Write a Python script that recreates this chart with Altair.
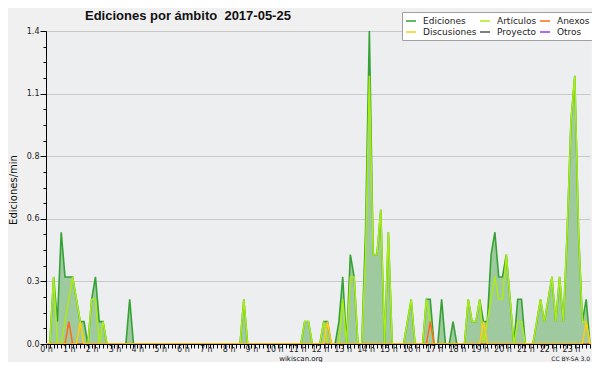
import altair as alt
import pandas as pd

title_text = "Ediciones por ámbito\u00a0\u00a02017-05-25"
y_title = "Ediciones/min"
footer_left = "wikiscan.org"
footer_right = "CC BY-SA 3.0"

series_names = ["Ediciones", "Artículos", "Anexos", "Discusiones", "Proyecto", "Otros"]
series_colors = ["#35a235", "#aaee11", "#ff6a1a", "#ffcc11", "#555555", "#9933ff"]

# one value per 10-minute bin (144 bins, 0 h .. 23 h 50); each line = 2 hours
ediciones = [
    0, 0, 0.3, 0.1, 0.5, 0.3, 0.3, 0.3, 0.2, 0.1, 0.1, 0,
    0.2, 0.3, 0.1, 0.1, 0, 0, 0, 0, 0, 0, 0.2, 0,
    0, 0, 0, 0, 0, 0, 0, 0, 0, 0, 0, 0,
    0, 0, 0, 0, 0, 0, 0, 0, 0, 0, 0, 0,
    0, 0, 0, 0, 0.2, 0, 0, 0, 0, 0, 0, 0,
    0, 0, 0, 0, 0, 0, 0, 0, 0.1, 0.1, 0, 0,
    0, 0.1, 0.1, 0, 0, 0.1, 0.3, 0, 0.4, 0.3, 0, 0,
    0.5, 1.4, 0.4, 0.4, 0.6, 0, 0.5, 0, 0, 0, 0, 0.1,
    0.2, 0, 0, 0, 0.2, 0.2, 0, 0, 0.2, 0, 0, 0.1,
    0, 0, 0, 0.2, 0.1, 0.1, 0.2, 0.1, 0.1, 0.4, 0.5, 0.3,
    0.3, 0.4, 0.2, 0, 0.2, 0.2, 0, 0, 0, 0.1, 0.2, 0.1,
    0.2, 0.3, 0.1, 0.3, 0.1, 0.5, 1.0, 1.2, 0.5, 0.1, 0.2, 0,
]
articulos = [
    0, 0, 0.3, 0, 0, 0.1, 0.2, 0.3, 0.2, 0.1, 0, 0,
    0.2, 0.2, 0, 0.1, 0, 0, 0, 0, 0, 0, 0, 0,
    0, 0, 0, 0, 0, 0, 0, 0, 0, 0, 0, 0,
    0, 0, 0, 0, 0, 0, 0, 0, 0, 0, 0, 0,
    0, 0, 0, 0, 0.2, 0, 0, 0, 0, 0, 0, 0,
    0, 0, 0, 0, 0, 0, 0, 0, 0.1, 0.1, 0, 0,
    0, 0.1, 0, 0, 0, 0, 0.2, 0, 0.3, 0.3, 0, 0,
    0.4, 1.2, 0.4, 0.4, 0.6, 0, 0.5, 0, 0, 0, 0, 0.1,
    0.2, 0, 0, 0, 0.2, 0.1, 0, 0, 0, 0, 0, 0,
    0, 0, 0, 0.2, 0.1, 0.1, 0.2, 0, 0.1, 0.2, 0.3, 0.2,
    0.2, 0.4, 0.2, 0, 0.1, 0.1, 0, 0, 0, 0.1, 0.2, 0.1,
    0.2, 0.3, 0.1, 0.3, 0.1, 0.5, 1.0, 1.2, 0.5, 0.1, 0.1, 0,
]
anexos = [
    0, 0, 0, 0, 0, 0, 0.1, 0, 0, 0, 0, 0,
    0, 0, 0, 0, 0, 0, 0, 0, 0, 0, 0, 0,
    0, 0, 0, 0, 0, 0, 0, 0, 0, 0, 0, 0,
    0, 0, 0, 0, 0, 0, 0, 0, 0, 0, 0, 0,
    0, 0, 0, 0, 0, 0, 0, 0, 0, 0, 0, 0,
    0, 0, 0, 0, 0, 0, 0, 0, 0, 0, 0, 0,
    0, 0, 0, 0, 0, 0, 0, 0, 0, 0, 0, 0,
    0, 0, 0, 0, 0, 0, 0, 0, 0, 0, 0, 0,
    0, 0, 0, 0, 0, 0.1, 0, 0, 0, 0, 0, 0,
    0, 0, 0, 0, 0, 0, 0, 0, 0, 0, 0, 0,
    0, 0, 0, 0, 0, 0, 0, 0, 0, 0, 0, 0,
    0, 0, 0, 0, 0, 0, 0, 0, 0, 0, 0, 0,
]
discusiones = [
    0, 0, 0, 0, 0, 0, 0, 0, 0, 0.1, 0, 0,
    0, 0, 0, 0, 0, 0, 0, 0, 0, 0, 0, 0,
    0, 0, 0, 0, 0, 0, 0, 0, 0, 0, 0, 0,
    0, 0, 0, 0, 0, 0, 0, 0, 0, 0, 0, 0,
    0, 0, 0, 0, 0, 0, 0, 0, 0, 0, 0, 0,
    0, 0, 0, 0, 0, 0, 0, 0, 0, 0, 0, 0,
    0, 0, 0.1, 0, 0, 0, 0, 0, 0, 0, 0, 0,
    0, 0, 0, 0, 0, 0, 0, 0, 0, 0, 0, 0,
    0, 0, 0, 0, 0, 0, 0, 0, 0, 0, 0, 0,
    0, 0, 0, 0, 0, 0, 0, 0.1, 0, 0, 0, 0,
    0, 0, 0, 0, 0, 0, 0, 0, 0, 0, 0, 0,
    0, 0, 0, 0, 0, 0, 0, 0, 0, 0, 0.1, 0,
]
proyecto = [
    0, 0, 0, 0, 0, 0, 0, 0, 0, 0, 0, 0,
    0, 0, 0, 0, 0, 0, 0, 0, 0, 0, 0, 0,
    0, 0, 0, 0, 0, 0, 0, 0, 0, 0, 0, 0,
    0, 0, 0, 0, 0, 0, 0, 0, 0, 0, 0, 0,
    0, 0, 0, 0, 0, 0, 0, 0, 0, 0, 0, 0,
    0, 0, 0, 0, 0, 0, 0, 0, 0, 0, 0, 0,
    0, 0, 0, 0, 0, 0, 0, 0, 0, 0, 0, 0,
    0, 0, 0, 0, 0, 0, 0, 0, 0, 0, 0, 0,
    0, 0, 0, 0, 0, 0, 0, 0, 0, 0, 0, 0,
    0, 0, 0, 0, 0, 0, 0, 0, 0, 0, 0, 0,
    0, 0, 0, 0, 0, 0, 0, 0, 0, 0, 0, 0,
    0, 0, 0, 0, 0, 0, 0, 0, 0, 0, 0, 0,
]
otros = [
    0, 0, 0, 0, 0, 0, 0, 0, 0, 0, 0, 0,
    0, 0, 0, 0, 0, 0, 0, 0, 0, 0, 0, 0,
    0, 0, 0, 0, 0, 0, 0, 0, 0, 0, 0, 0,
    0, 0, 0, 0, 0, 0, 0, 0, 0, 0, 0, 0,
    0, 0, 0, 0, 0, 0, 0, 0, 0, 0, 0, 0,
    0, 0, 0, 0, 0, 0, 0, 0, 0, 0, 0, 0,
    0, 0, 0, 0, 0, 0, 0, 0, 0, 0, 0, 0,
    0, 0, 0, 0, 0, 0, 0, 0, 0, 0, 0, 0,
    0, 0, 0, 0, 0, 0, 0, 0, 0, 0, 0, 0,
    0, 0, 0, 0, 0, 0, 0, 0, 0, 0, 0, 0,
    0, 0, 0, 0, 0, 0, 0, 0, 0, 0, 0, 0,
    0, 0, 0, 0, 0, 0, 0, 0, 0, 0, 0, 0,
]

n_bins = len(ediciones)
hora = [b / 6 for b in range(n_bins)]

total_df = pd.DataFrame({"hora": hora, "valor": ediciones, "ambito": "Ediciones"})
sub_rows = []
for name, vals in [("Proyecto", proyecto), ("Otros", otros), ("Artículos", articulos),
                   ("Anexos", anexos), ("Discusiones", discusiones)]:
    for h, v in zip(hora, vals):
        sub_rows.append({"hora": h, "valor": v, "ambito": name})
sub_df = pd.DataFrame(sub_rows)

x_tick_values = hora
y_tick_values = [round(k * 0.07, 2) for k in range(21)]
major_test = "abs(datum.value / 0.28 - round(datum.value / 0.28)) < 0.01"

x_enc = alt.X(
    "hora:Q",
    scale=alt.Scale(domain=[0, (n_bins - 1) / 6], nice=False, zero=False),
    axis=alt.Axis(
        values=x_tick_values,
        labelExpr="abs(datum.value - round(datum.value)) < 0.01 ? round(datum.value) + ' h' : ''",
        title="",
        grid=False,
        tickSize=4,
        tickColor="#000000",
        domainColor="#000000",
        domainWidth=1.2,
        labelFont="DejaVu Sans",
        labelFontSize=8,
        labelColor="#222222",
        labelPadding=-3,
        labelFlush=False,
        labelOverlap=False,
        zindex=1,
    ),
)
y_enc = alt.Y(
    "valor:Q",
    scale=alt.Scale(domain=[0, 1.4], nice=False),
    axis=alt.Axis(
        values=y_tick_values,
        labelExpr=major_test + " ? format(datum.value, '.1f') : ''",
        title="",
        grid=True,
        gridColor="#c8c8c8",
        gridOpacity={"condition": {"test": major_test, "value": 1}, "value": 0},
        tickSize={"condition": {"test": major_test, "value": 6}, "value": 3},
        tickColor="#000000",
        domainColor="#000000",
        labelFont="DejaVu Sans",
        labelFontSize=8,
        labelColor="#222222",
        labelPadding=1,
        labelFlush=False,
        labelOverlap=False,
    ),
)
color_enc = alt.Color(
    "ambito:N",
    scale=alt.Scale(domain=series_names, range=series_colors),
    legend=alt.Legend(
        title=None,
        orient="none",
        legendX=356,
        legendY=-19,
        direction="horizontal",
        columns=3,
        symbolType="stroke",
        symbolSize=100,
        symbolStrokeWidth=1.5,
        labelFont="DejaVu Sans",
        labelFontSize=9,
        labelColor="#222222",
        labelOffset=6,
        columnPadding=0,
        rowPadding=0,
        padding=3,
        fillColor="#ffffff",
        strokeColor="#a0a0a0",
    ),
)

area = alt.Chart(total_df).mark_area(color="#9fc99f", opacity=1).encode(x=x_enc, y=y_enc)
total_line = alt.Chart(total_df).mark_line(strokeWidth=1.6).encode(x=x_enc, y=y_enc, color=color_enc)
sub_lines = alt.Chart(sub_df).mark_line(strokeWidth=1.5).encode(x=x_enc, y=y_enc, color=color_enc)

shadow = alt.Chart(pd.DataFrame({"s": [0]})).mark_rect(color="#8c8c8c").encode(
    x=alt.value(359), x2=alt.value(549), y=alt.value(-16), y2=alt.value(10)
)


def text_layer(txt, x, y, size, weight="normal", align="left", font="DejaVu Sans",
               angle=0, baseline="middle"):
    return alt.Chart(pd.DataFrame({"t": [txt]})).mark_text(
        align=align, baseline=baseline, fontSize=size, fontWeight=weight,
        font=font, color="#111111", angle=angle,
    ).encode(text="t:N", x=alt.value(x), y=alt.value(y))


title_layer = text_layer(title_text, 39, -11, 13, weight="bold", font="Liberation Sans",
                         baseline="alphabetic")
ytitle_layer = text_layer(y_title, -32, 159, 10, align="center", angle=270)
foot_l = text_layer(footer_left, 255, 330, 7, align="center", baseline="alphabetic")
foot_r = text_layer(footer_right, 544, 330, 6, align="right", baseline="alphabetic")

chart = alt.layer(
    area, total_line, sub_lines, shadow, title_layer, ytitle_layer, foot_l, foot_r
).properties(
    width=544,
    height=313,
    padding={"left": 38, "top": 23, "right": 2, "bottom": 18},
    autosize=alt.AutoSizeParams(type="none"),
).configure(
    background="#f0f0f0"
).configure_view(
    fill="#edeef0", stroke="transparent"
)

chart.save("out.html", embed_options={"renderer": "svg", "actions": False})
